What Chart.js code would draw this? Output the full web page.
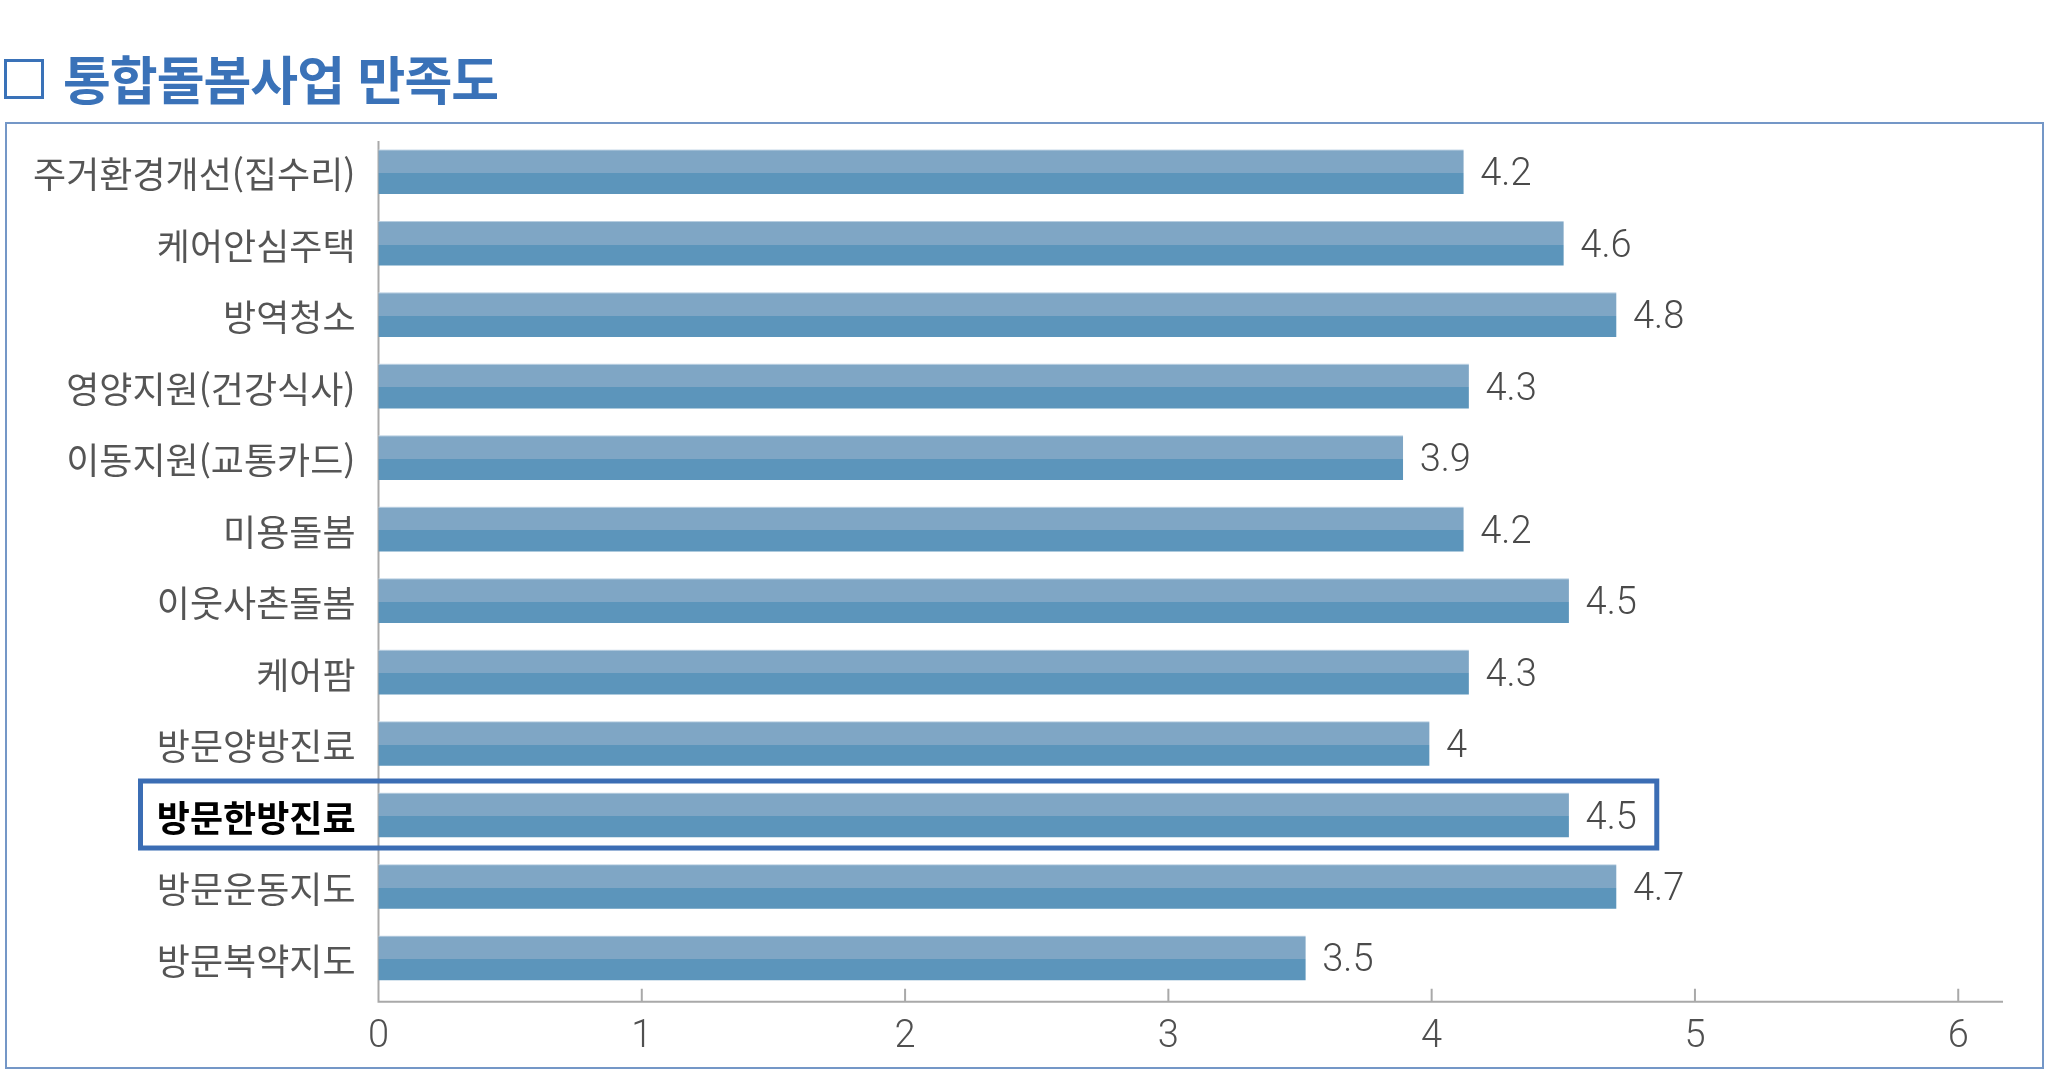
<!DOCTYPE html>
<html lang="ko">

<head>
    <meta charset="UTF-8">
    <title>통합돌봄사업 만족도</title>
    <script src="https://cdn.jsdelivr.net/npm/chart.js"></script>
    <style>
        html, body { margin: 0; padding: 0; background: #fff; }
        body { width: 2048px; height: 1075px; position: relative; overflow: hidden; }
        #frame {
            position: absolute; left: 5px; top: 122px; width: 2039px; height: 947px;
            box-sizing: border-box; border: 2px solid #7497c7;
        }
        #titleBox {
            position: absolute; left: 4px; top: 59px; width: 40px; height: 40px;
            box-sizing: border-box; border: 3px solid #3a72b8;
        }
        #title {
            position: absolute; left: 63px; top: 40px; line-height: 52px;
            font: bold 52px "Noto Sans CJK KR", sans-serif; letter-spacing: -1px;
            color: #3a72b8; white-space: nowrap;
        }
        #wrap { position: absolute; left: 0; top: 0; width: 2048px; height: 1075px; }
    </style>
</head>

<body>
    <div id="frame"></div>
    <div id="titleBox"></div>
    <div id="title">통합돌봄사업 만족도</div>
    <div id="wrap"><canvas id="satisfactionChart"></canvas></div>

    <script>
        // categories, top to bottom
        const categories = [
            '주거환경개선(집수리)', '케어안심주택', '방역청소', '영양지원(건강식사)',
            '이동지원(교통카드)', '미용돌봄', '이웃사촌돌봄', '케어팜',
            '방문양방진료', '방문한방진료', '방문운동지도', '방문복약지도'
        ];
        // bar lengths as drawn in the picture
        const barValues = [4.12, 4.50, 4.70, 4.14, 3.89, 4.12, 4.52, 4.14, 3.99, 4.52, 4.70, 3.52];
        // values printed next to the bars
        const valueLabels = ['4.2', '4.6', '4.8', '4.3', '3.9', '4.2', '4.5', '4.3', '4', '4.5', '4.7', '3.5'];
        const xTicks = [0, 1, 2, 3, 4, 5, 6];
        const highlightIndex = 9;

        const labelFont = '"Noto Sans CJK KR", sans-serif';
        const numberFont = 'Roboto, "Noto Sans", sans-serif';

        // two tone bar fill, light upper half and darker lower half
        function barFill(context) {
            const chart = context.chart;
            const yScale = chart.scales.y;
            if (context.type !== 'data' || !yScale) return '#7fa6c5';
            const c = yScale.getPixelForValue(context.dataIndex);
            if (!isFinite(c)) return '#7fa6c5';
            const g = chart.ctx.createLinearGradient(0, c - 22, 0, c + 22);
            g.addColorStop(0, '#c6d8e7');
            g.addColorStop(0.03, '#7fa6c5');
            g.addColorStop(0.53, '#7fa6c5');
            g.addColorStop(0.53, '#5c95bb');
            g.addColorStop(1, '#5c95bb');
            return g;
        }

        // axis lines and inward tick marks
        const axisPlugin = {
            id: 'axisLines',
            beforeDatasetsDraw(chart) {
                const ctx = chart.ctx;
                const area = chart.chartArea;
                const x = chart.scales.x;
                const axisY = area.bottom + 8;
                ctx.save();
                ctx.strokeStyle = '#a9a9a9';
                ctx.lineWidth = 2;
                ctx.beginPath();
                ctx.moveTo(area.left, area.top + 5);
                ctx.lineTo(area.left, axisY + 1);
                ctx.moveTo(area.left, axisY);
                ctx.lineTo(area.right, axisY);
                xTicks.forEach(v => {
                    const px = x.getPixelForValue(v);
                    ctx.moveTo(px, axisY - 13);
                    ctx.lineTo(px, axisY);
                });
                ctx.stroke();
                ctx.restore();
            }
        };

        // value labels and highlight box
        const labelPlugin = {
            id: 'valueLabels',
            afterDatasetsDraw(chart) {
                const ctx = chart.ctx;
                const meta = chart.getDatasetMeta(0);
                ctx.save();
                ctx.font = '300 38px ' + numberFont;
                ctx.fillStyle = '#4a4a4a';
                ctx.textBaseline = 'middle';
                ctx.textAlign = 'left';
                meta.data.forEach((bar, i) => {
                    ctx.fillText(valueLabels[i], bar.x + 17, bar.y + 4);
                });

                const yScale = chart.scales.y;
                const xScale = chart.scales.x;
                const cy = yScale.getPixelForValue(highlightIndex);
                ctx.strokeStyle = '#3b6db4';
                ctx.lineWidth = 5;
                const left = 140.5;
                const right = xScale.getPixelForValue(4.855);
                ctx.strokeRect(left, cy - 34, right - left, 67);
                ctx.restore();
            }
        };

        const ctx = document.getElementById('satisfactionChart').getContext('2d');
        const satisfactionChart = new Chart(ctx, {
            type: 'bar',
            data: {
                labels: categories,
                datasets: [{
                    label: '만족도',
                    data: barValues,
                    backgroundColor: barFill,
                    borderWidth: 0,
                    barThickness: 44
                }]
            },
            options: {
                indexAxis: 'y',
                responsive: true,
                maintainAspectRatio: false,
                animation: false,
                layout: {
                    padding: { top: 136, right: 45, bottom: 0, left: 0 }
                },
                plugins: {
                    legend: { display: false },
                    tooltip: { enabled: false }
                },
                scales: {
                    x: {
                        min: 0,
                        max: 6.17,
                        grid: { display: false, drawTicks: false },
                        border: { display: false },
                        afterBuildTicks: function(scale) {
                            scale.ticks = xTicks.map(v => ({ value: v }));
                        },
                        afterFit: function(scale) {
                            scale.height = 81.3;
                        },
                        ticks: {
                            padding: 21,
                            color: '#505050',
                            font: { family: numberFont, size: 38, weight: 300 },
                            callback: function(value) {
                                return value;
                            }
                        }
                    },
                    y: {
                        grid: { display: false, drawTicks: false },
                        border: { display: false },
                        afterFit: function(scale) {
                            scale.width = 378.5;
                        },
                        ticks: {
                            padding: 23,
                            labelOffset: 3,
                            autoSkip: false,
                            color: function(c) {
                                return c.index === highlightIndex ? '#000' : '#555';
                            },
                            font: function(c) {
                                return c.index === highlightIndex
                                    ? { family: labelFont, size: 36, weight: 'bold' }
                                    : { family: labelFont, size: 36, weight: 'normal' };
                            }
                        }
                    }
                }
            },
            plugins: [axisPlugin, labelPlugin]
        });
    </script>
</body>

</html>
